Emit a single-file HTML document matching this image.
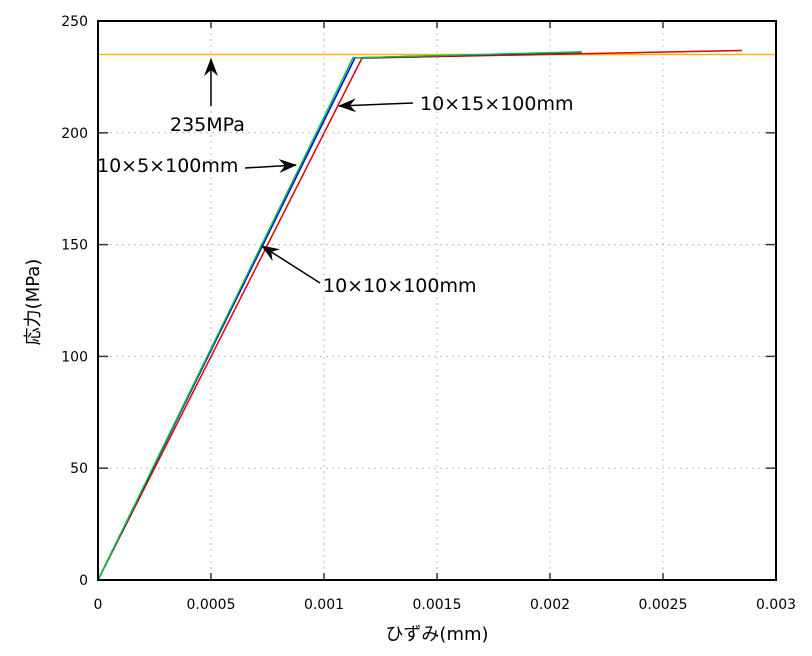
<!DOCTYPE html>
<html><head><meta charset="utf-8"><style>
body{margin:0;background:#fff}
svg text{font-family:"DejaVu Sans","Liberation Sans","Noto Sans CJK JP",sans-serif;fill:#000}
</style></head><body>
<svg id="chart" width="812" height="651" xmlns="http://www.w3.org/2000/svg">
<defs><marker id="ah" markerWidth="18" markerHeight="14" refX="17" refY="7" orient="auto" markerUnits="userSpaceOnUse"><path d="M0,0 L18,7 L0,14 L6,7 z" fill="#000"/></marker></defs>
<g id="grid"></g>
<g id="series"></g>
<g id="axes"></g>
<g id="annot"></g>
</svg>
<script>
const xTicks=[0,0.0005,0.001,0.0015,0.002,0.0025,0.003];
const xTickLabels=["0","0.0005","0.001","0.0015","0.002","0.0025","0.003"];
const yTicks=[0,50,100,150,200,250];
const yTickLabels=["0","50","100","150","200","250"];
const seriesNames=["10x5x100mm","10x10x100mm","10x15x100mm"];
const greenX=[0,0.001128,0.00214];
const greenY=[0,233.5,236.2];
const blueX=[0,0.001137,0.00214];
const blueY=[0,233.5,236.0];
const redX=[0,0.001168,0.00285];
const redY=[0,233.4,236.8];
const yieldStress=235;

const L=98,R=776,T=21,B=580;
const sx=v=>L+v/0.003*(R-L);
const sy=v=>B-v/250*(B-T);
const NS="http://www.w3.org/2000/svg";
function mk(p,tag,attrs){const e=document.createElementNS(NS,tag);for(const k in attrs)e.setAttribute(k,attrs[k]);p.appendChild(e);return e;}
const grid=document.getElementById('grid'),axes=document.getElementById('axes'),ser=document.getElementById('series'),ann=document.getElementById('annot');

xTicks.forEach((v,i)=>{
 if(i>0&&i<xTicks.length-1){const g=mk(grid,'line',{x1:sx(v),x2:sx(v),y1:T,y2:B,stroke:'#bbb','stroke-dasharray':'2,4'});
 
 }
 mk(axes,'line',{x1:sx(v),x2:sx(v),y1:B,y2:B-7,stroke:'#333','stroke-width':1.5});
 mk(axes,'line',{x1:sx(v),x2:sx(v),y1:T,y2:T+7,stroke:'#333','stroke-width':1.5});
 const t=mk(axes,'text',{x:sx(v),y:B+29,'text-anchor':'middle','font-size':14});
 t.textContent=xTickLabels[i];
 
 
});
yTicks.forEach((v,i)=>{
 if(i>0&&i<yTicks.length-1){const g=mk(grid,'line',{x1:L,x2:R,y1:sy(v),y2:sy(v),stroke:'#bbb','stroke-dasharray':'2,4'});
 
 }
 mk(axes,'line',{x1:L,x2:L+10,y1:sy(v),y2:sy(v),stroke:'#333','stroke-width':1.5});
 mk(axes,'line',{x1:R,x2:R-10,y1:sy(v),y2:sy(v),stroke:'#333','stroke-width':1.5});
 const t=mk(axes,'text',{x:L-10,y:sy(v)+5,'text-anchor':'end','font-size':14});
 t.textContent=yTickLabels[i];
 
 
});
const fr=mk(axes,'rect',{x:L,y:T,width:R-L,height:B-T,fill:'none',stroke:'#000','stroke-width':2});


const xt=mk(axes,'text',{x:437,y:640,'text-anchor':'middle','font-size':18});
xt.textContent='ひずみ(mm)';


const yt=mk(axes,'text',{x:0,y:0,'text-anchor':'middle','font-size':18,transform:'translate(39,302) rotate(-90)'});
yt.textContent='応力(MPa)';



const yl=mk(ser,'line',{x1:L,x2:R,y1:sy(yieldStress),y2:sy(yieldStress),stroke:'#ffb300','stroke-width':1.5});


function poly(xs,ys,c,name){const p=mk(ser,'polyline',{points:xs.map((x,i)=>sx(x)+','+sy(ys[i])).join(' '),fill:'none',stroke:c,'stroke-width':1.5});
 
 }
poly(redX,redY,'#e00000','series-10x10x100mm');
poly(blueX,blueY,'#0000e0','series-10x15x100mm');
poly(greenX,greenY,'#00c040','series-10x5x100mm');

function arrow(x1,y1,x2,y2,name){const a=mk(ann,'line',{x1,y1,x2,y2,stroke:'#000','stroke-width':1.5,'marker-end':'url(#ah)'});
 
 }
function label(x,y,s,name){const t=mk(ann,'text',{x,y,'font-size':19});t.textContent=s;
 
 }
arrow(211,106,211,59,'arrow-235mpa');
label(170,131,'235MPa','label-235mpa');
arrow(413,103,339,106,'arrow-10x15');
label(420,110,'10×15×100mm','label-10x15');
arrow(245,168,296,165,'arrow-10x5');
label(97,172,'10×5×100mm','label-10x5');
arrow(320,283,262,246,'arrow-10x10');
label(323,292,'10×10×100mm','label-10x10');
</script>
</body></html>
